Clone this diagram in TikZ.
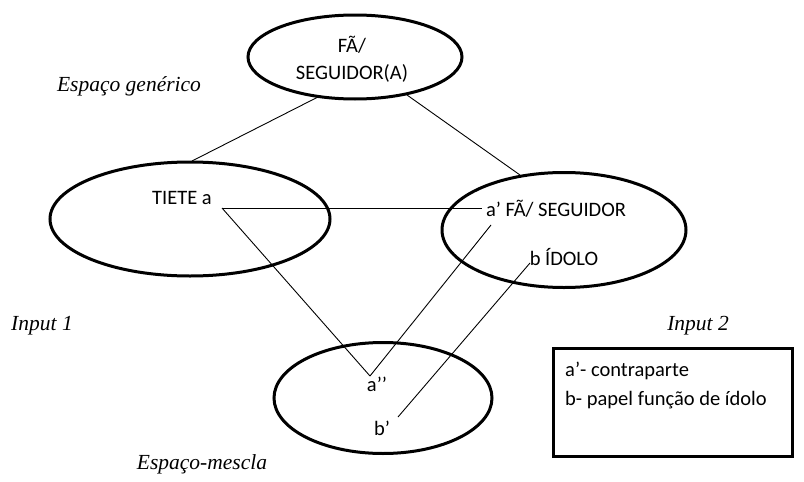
\documentclass[tikz,border=0pt]{standalone}
\usepackage{fontspec}
\setmainfont{Carlito}
\newfontfamily\labelfont{Liberation Serif}
\usetikzlibrary{shapes.geometric}
\begin{document}
\begin{tikzpicture}[x=1pt,y=-1pt,
  space/.style={draw=black,line width=3pt,ellipse,minimum width=#1},
  txt/.style={font=\fontsize{20.5}{23}\selectfont,inner sep=0pt},
  lab/.style={font=\labelfont\itshape\fontsize{21.5}{24}\selectfont,inner sep=0pt},
  conn/.style={draw=black,line width=0.9pt}]
\useasboundingbox (0,0) rectangle (804,482);
% spaces
\node[space=214pt,minimum height=84pt] (gen) at (355,57) {};
\node[space=280pt,minimum height=114pt] (in1) at (190,219) {};
\node[space=244pt,minimum height=115pt] (in2) at (564,230) {};
\node[space=218pt,minimum height=111pt] (mix) at (383,398) {};
% texts
\node[txt,align=center] (gent) at (352,59) {FÃ/\\[4pt]SEGUIDOR(A)};
\node[txt] (tiete) at (182,198) {TIETE a};
\node[txt] (ap) at (556,209) {a’ FÃ/ SEGUIDOR};
\node[txt] (bi) at (564,257) {b ÍDOLO};
\node[txt] (app) at (377,384) {a’’};
\node[txt] (bp) at (382,428) {b’};
% labels
\node[lab] (lgen) at (129,86) {Espaço genérico};
\node[lab] (lin1) at (42,326) {Input 1};
\node[lab] (lin2) at (698,326) {Input 2};
\node[lab] (lmix) at (202,464) {Espaço-mescla};
% legend box
\draw[line width=3pt] (553,348) rectangle (792,456);
\node[txt,anchor=base west] (la) at (565,376) {a’- contraparte};
\node[txt,anchor=base west] (lb) at (565,405) {b- papel função de ídolo};
% connector points
\coordinate (g1) at (318,97);
\coordinate (i1) at (192,161);
\coordinate (g2) at (407,95);
\coordinate (i2) at (520,175);
\coordinate (ta) at (222,208);
\coordinate (apl) at (482,208);
\coordinate (apd) at (491,225);
\coordinate (app1) at (370,376);
\coordinate (bb) at (530,263);
\coordinate (bpp) at (398,417);
% connectors
\draw[conn] (g1) -- (i1);
\draw[conn] (g2) -- (i2);
\draw[conn] (ta) -- (apl);
\draw[conn] (ta) -- (app1);
\draw[conn] (apd) -- (app1);
\draw[conn] (bb) -- (bpp);
\end{tikzpicture}
\end{document}
